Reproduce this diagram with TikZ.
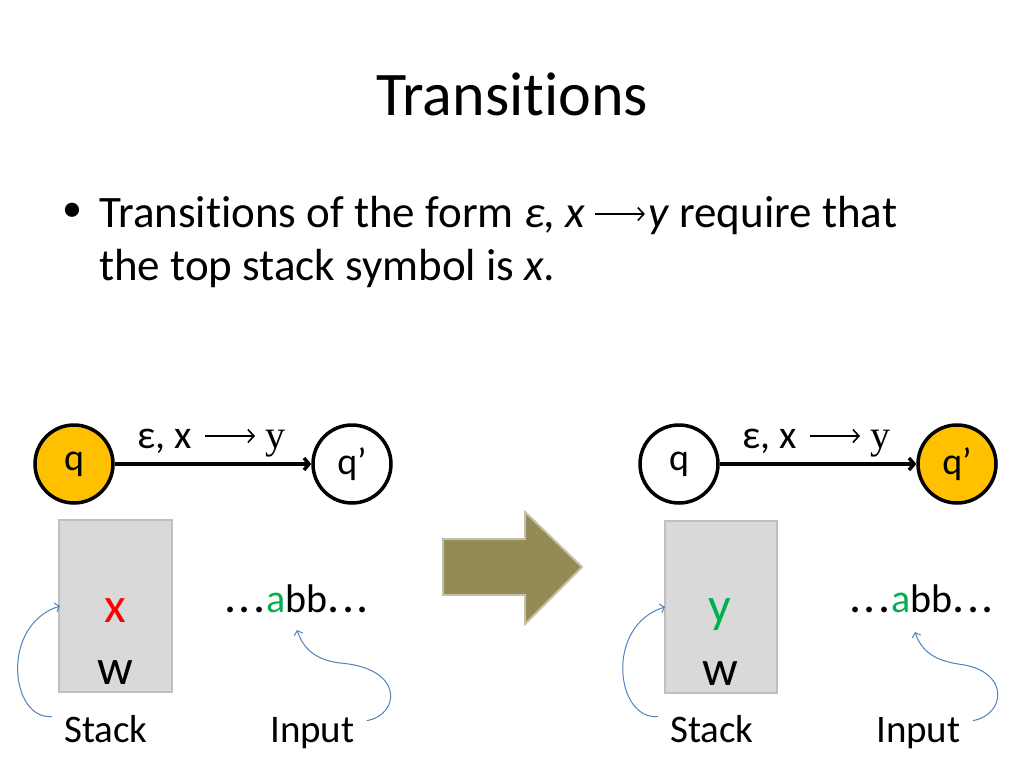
\documentclass[tikz,border=0pt]{standalone}
\usepackage{fontspec}
\setmainfont{Carlito}[RawFeature={-liga;-clig;-dlig;-calt}]
\newfontfamily\serifglyph{Liberation Serif}
\usetikzlibrary{arrows.meta}
\definecolor{gold}{HTML}{FFC000}
\definecolor{stackfill}{HTML}{D9D9D9}
\definecolor{stackedge}{HTML}{BFBFBF}
\definecolor{olive}{HTML}{948A54}
\definecolor{oliveedge}{HTML}{C4BFA8}
\definecolor{pointer}{HTML}{4F81BD}
\definecolor{goodgreen}{HTML}{00B050}
\definecolor{badred}{HTML}{FF0000}
\newcommand{\leaddots}{{\fontsize{48}{48}\selectfont .\kern2.5pt.\kern2.5pt.\kern0.5pt}}
\newcommand{\traildots}{{\fontsize{48}{48}\selectfont \kern0.5pt.\kern2.5pt.\kern2.5pt.}}
\newcommand{\transword}{Transi\kern0pt t\kern0pt ions}
\tikzset{
  state/.style={circle, draw=black, line width=3.5pt, minimum size=78pt, inner sep=0pt, font=\fontsize{38}{44}\selectfont},
  active/.style={state, fill=gold},
  trans/.style={line width=3.5pt, -{Straight Barb[length=5pt,width=12pt]}},
  tlabel/.style={inner sep=0pt, font=\fontsize{40}{46}\selectfont},
  glypharrow/.style={line width=1.6pt, -{Straight Barb[length=6pt,width=13pt]}},
  bullettext/.style={anchor=base west, inner sep=0pt, font=\fontsize{45}{54}\selectfont},
  stackbox/.style={draw=stackedge, fill=stackfill, line width=2pt},
  sym/.style={anchor=base, inner sep=0pt, font=\fontsize{50}{56}\selectfont},
  tape/.style={anchor=base west, inner sep=0pt, font=\fontsize{40}{46}\selectfont},
  caption/.style={anchor=base west, inner sep=0pt, font=\fontsize{39}{46}\selectfont},
  pointer/.style={draw=pointer, line width=1pt, -{Straight Barb[length=4pt,width=9pt]}},
  bigarrow/.style={fill=olive, draw=oliveedge, line width=2pt, line join=miter}
}
\begin{document}
\begin{tikzpicture}[x=1pt,y=-1pt]
\useasboundingbox (0,0) rectangle (1024,768);
% title
\node[anchor=base, inner sep=0pt, font=\fontsize{62}{70}\selectfont] (title) at (512,115) {\transword};
% bullet
\node[anchor=center, inner sep=0pt, font=\fontsize{40}{54}\selectfont] (dot) at (72,212) {•};
\node[bullettext] (l1a) at (99,227) {\transword{} of the form \textit{ε, x}};
\node[bullettext] (l1b) at ([xshift=62pt]l1a.base east) {\textit{y} require that};
\draw[glypharrow] ([xshift=9pt,yshift=13pt]l1a.base east) -- ([xshift=-3pt,yshift=13pt]l1b.base west);
\node[bullettext] (line2) at (99,280) {the top stack symbol is \textit{x.}};
% ---------- left configuration ----------
\node[active] (lq) at (74,464) {q};
\node[state] (lqp) at (352,464) {q’};
\draw[trans] (lq) -- (lqp);
\node[tlabel, anchor=base east] (llabA) at (192,448) {ε, x};
\node[tlabel, anchor=base west] (llabB) at (265,448) {\serifglyph y};
\draw[glypharrow] ([xshift=13pt,yshift=12pt]llabA.base east) -- ([xshift=-10pt,yshift=12pt]llabB.base west);
\draw[stackbox] (59,520) rectangle (172,692);
\node[sym, text=badred] (lx) at (115,622) {x};
\node[sym] (lw) at (115,684) {w};
\node[tape] (ltape) at (224,612) {\leaddots\textcolor{goodgreen}{a}bb\traildots};
\node[caption] (lstack) at (64,742) {Stack};
\node[caption] (linput) at (270,742) {Input};
\coordinate (lsp) at (60,606);
\coordinate (lip) at (297,630);
\draw[pointer] (lstack.west) ++(-12,-12) .. controls (10,720) and (0,625) .. (lsp);
\draw[pointer] (linput.east) ++(12,-12) .. controls (400,715) and (405,668) .. (340,663) .. controls (315,660) and (303,648) .. (lip);
% ---------- big arrow ----------
\draw[bigarrow] (443,539) -- (525,539) -- (525,512) -- (582,567) -- (525,624) -- (525,595) -- (443,595) -- cycle;
% ---------- right configuration ----------
\node[state] (rq) at (679,464) {q};
\node[active] (rqp) at (957,464) {q’};
\draw[trans] (rq) -- (rqp);
\node[tlabel, anchor=base east] (rlabA) at (797,448) {ε, x};
\node[tlabel, anchor=base west] (rlabB) at (870,448) {\serifglyph y};
\draw[glypharrow] ([xshift=13pt,yshift=12pt]rlabA.base east) -- ([xshift=-10pt,yshift=12pt]rlabB.base west);
\draw[stackbox] (665,521) rectangle (777,693);
\node[sym, text=goodgreen] (ry) at (720,622) {y};
\node[sym] (rw) at (720,685) {w};
\node[tape] (rtape) at (849,612) {\leaddots\textcolor{goodgreen}{a}bb\traildots};
\node[caption] (rstack) at (670,742) {Stack};
\node[caption] (rinput) at (876,742) {Input};
\coordinate (rsp) at (665,607);
\coordinate (rip) at (915,632);
\draw[pointer] (rstack.west) ++(-12,-12) .. controls (615,720) and (605,625) .. (rsp);
\draw[pointer] (rinput.east) ++(12,-12) .. controls (1006,715) and (1011,670) .. (958,664) .. controls (933,660) and (921,650) .. (rip);
\end{tikzpicture}
\end{document}
